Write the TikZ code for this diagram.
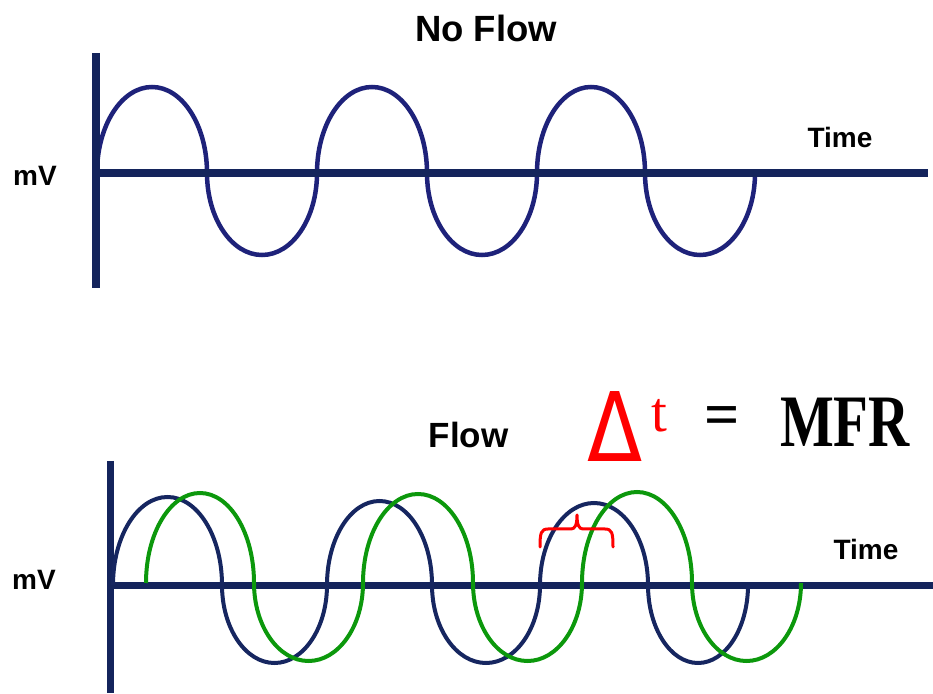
\documentclass[tikz,border=0pt]{standalone}
\usepackage{fontspec}
\usepackage{graphicx}
\setmainfont{Liberation Sans}
\newfontfamily\seriffam{Liberation Serif}
\newfontfamily\deltafam{DejaVu Sans}
\definecolor{axisnavy}{RGB}{20,36,92}
\definecolor{topwave}{RGB}{30,34,122}
\definecolor{botblue}{RGB}{22,38,96}
\definecolor{wavegreen}{RGB}{12,152,12}
\tikzset{
  axisline/.style={draw=axisnavy, line width=#1, line cap=butt},
  wavetop/.style={draw=topwave, line width=4.5pt},
  waveblue/.style={draw=botblue, line width=4pt},
  wavegrn/.style={draw=wavegreen, line width=4pt},
  lbl/.style={inner sep=0pt, outer sep=0pt, anchor=base, font=\bfseries\fontsize{28}{28}\selectfont},
}
\begin{document}
\begin{tikzpicture}[x=1pt,y=1pt]
\useasboundingbox (0,0) rectangle (933,693);
% ---------- top panel ----------
\coordinate (ta0) at (96,640);
\coordinate (ta1) at (96,405);
\coordinate (tb0) at (92,520);
\coordinate (tb1) at (928,520);
\draw[wavetop] (97,520)
  arc[start angle=180,end angle=0,x radius=55,y radius=86]
  arc[start angle=180,end angle=360,x radius=55,y radius=82]
  arc[start angle=180,end angle=0,x radius=55,y radius=86]
  arc[start angle=180,end angle=360,x radius=55,y radius=82]
  arc[start angle=180,end angle=0,x radius=54,y radius=86]
  arc[start angle=180,end angle=360,x radius=55,y radius=82];
\draw[axisline=8pt] (ta0) -- (ta1);
\draw[axisline=8pt] (tb0) -- (tb1);
\node[lbl, font=\bfseries\fontsize{36.5}{36.5}\selectfont] (noflow) at (486,651) {No Flow};
\node[lbl] (mvtop) at (35,507) {mV};
\node[lbl] (timetop) at (840,545) {Time};
% ---------- bottom panel ----------
\coordinate (ba0) at (110,232);
\coordinate (ba1) at (110,0);
\coordinate (bb0) at (107,108);
\coordinate (bb1) at (933,108);
\draw[axisline=7pt] (ba0) -- (ba1);
\draw[axisline=7pt] (bb0) -- (bb1);
\draw[waveblue] (113,108)
  arc[start angle=180,end angle=0,x radius=54.5,y radius=88]
  arc[start angle=180,end angle=360,x radius=52.5,y radius=78]
  arc[start angle=180,end angle=0,x radius=52.5,y radius=84]
  arc[start angle=180,end angle=360,x radius=54,y radius=78]
  arc[start angle=180,end angle=0,x radius=54,y radius=82]
  arc[start angle=180,end angle=360,x radius=50,y radius=78];
\draw[wavegrn] (146,110)
  arc[start angle=180,end angle=0,x radius=54,y radius=90]
  arc[start angle=180,end angle=360,x radius=54.5,y radius=78]
  arc[start angle=180,end angle=0,x radius=55,y radius=89]
  arc[start angle=180,end angle=360,x radius=54.5,y radius=78]
  arc[start angle=180,end angle=0,x radius=55,y radius=91]
  arc[start angle=180,end angle=360,x radius=54.5,y radius=78];
\node[lbl, font=\bfseries\fontsize{35}{35}\selectfont] (flow) at (468.5,245) {Flow};
\node[lbl] (mvbot) at (34,103) {mV};
\node[lbl] (timebot) at (866,133) {Time};
% equation
\node[inner sep=0pt, anchor=base, text=red, font=\deltafam\fontsize{96}{96}\selectfont] (delta) at (615,231) {\scalebox{0.84}[1]{Δ}};
\node[inner sep=0pt, anchor=base west, text=red, font=\seriffam\fontsize{57}{57}\selectfont] (tvar) at (651,261) {t};
\node[inner sep=0pt, anchor=center, font=\seriffam\bfseries\fontsize{62}{62}\selectfont] (eq) at (722.5,272) {=};
\node[inner sep=0pt, anchor=base, font=\seriffam\bfseries\fontsize{74}{74}\selectfont] (mfr) at (845,246) {\scalebox{0.77}[1]{MFR}};
% brace
\coordinate (br0) at (540,146);
\coordinate (br1) at (613,146);
\coordinate (brtip) at (577,178);
\draw[red, line width=3pt, line join=round, line cap=round]
  (br0) .. controls (540,160) and (541,164) .. (548,164) -- (571,164)
  .. controls (575,164) and (577,168) .. (brtip)
  .. controls (577,168) and (579,164) .. (583,164) -- (605,164)
  .. controls (612,164) and (613,160) .. (br1);
\end{tikzpicture}
\end{document}
